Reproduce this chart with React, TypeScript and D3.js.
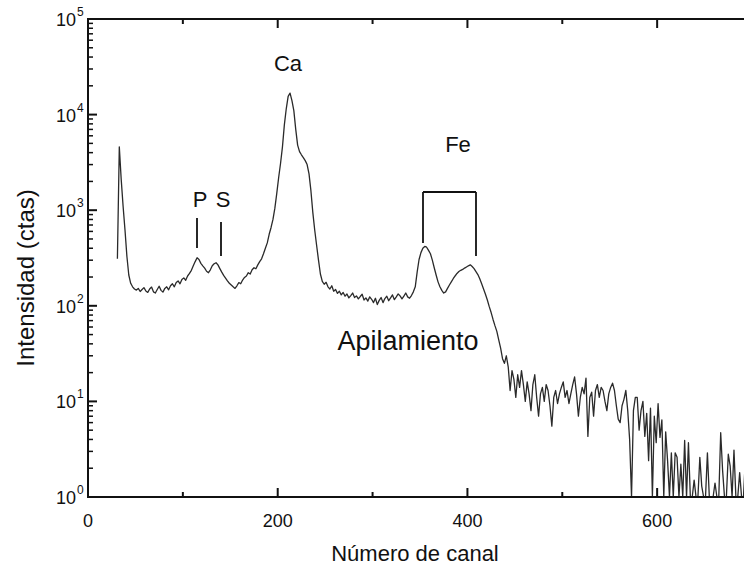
import React from "react";
import * as d3 from "d3";

// Channel numbers (every 2nd channel, 31..699)
const CHANNELS: number[] = d3.range(31, 700, 2);

// Counts per channel (0 = no counts)
const COUNTS: number[] = [
  310, 4600, 2100, 1100, 620, 330, 210, 172, 158, 150,
  146, 152, 141, 148, 155, 143, 138, 150, 157, 140,
  136, 148, 160, 145, 139, 152, 158, 147, 162, 170,
  158, 175, 182, 170, 188, 196, 185, 205, 218, 235,
  262, 290, 318, 305, 278, 262, 248, 230, 222, 238,
  262, 275, 282, 268, 245, 225, 208, 195, 182, 172,
  165, 158, 152, 162, 175, 170, 186, 198, 205, 222,
  215, 238, 250, 244, 268, 290, 310, 350, 400, 455,
  560, 660, 800, 1050, 1500, 2200, 3100, 4600, 7800, 11500,
  15500, 16800, 14000, 11000, 7000, 4800, 4100, 3800, 3550, 3300,
  3000, 2400, 1600, 950, 620, 430, 300, 215, 180, 168,
  176, 158, 150, 162, 142, 148, 135, 142, 130, 138,
  126, 133, 121, 128, 136, 122, 127, 118, 125, 132,
  115, 121, 112, 124, 117, 108, 120, 103, 114, 122,
  108, 119, 126, 113, 121, 130, 116, 124, 133, 127,
  118, 126, 136, 124, 120, 128, 140, 158, 225, 305,
  360, 400, 418, 410, 380, 350, 300, 250, 210, 178,
  158, 145, 136, 140, 152, 165, 178, 192, 205, 218,
  228, 235, 240, 248, 255, 262, 268, 258, 245, 228,
  212, 192, 170, 150, 132, 115, 98, 85, 72, 62,
  54, 44, 36, 28, 25, 30, 23, 13, 21, 17,
  11, 19, 14, 21, 15, 10, 16, 12, 8, 15,
  19, 11, 7, 12, 14, 10, 15, 13, 9, 5.5,
  11, 13, 9.5, 12, 14, 16, 11, 13, 9.5, 12,
  15, 18, 12, 7, 11, 14, 12, 17.5, 4.3, 11,
  12.5, 7, 13, 15, 11, 14, 13, 10, 8, 12,
  14, 15.5, 13, 9, 6.5, 6, 9, 10.5, 13, 8,
  4, 0, 8, 11, 11, 5, 8, 10, 4.3, 7.5,
  2.4, 8.5, 0, 7, 3.7, 9.5, 4.2, 6.4, 1, 4.8,
  2.4, 0, 2.9, 0, 2.9, 2.6, 0, 2.2, 0, 3.9,
  0, 3.7, 0, 0, 1.5, 0, 0, 2.6, 1.3, 0,
  0, 2.9, 0, 0, 0, 1.4, 0, 0, 4.7, 1.9,
  0, 0, 2.8, 2.1, 0, 3.1, 0, 0, 1.8, 0,
  0, 2.5, 0, 1.5, 0,
];

const X_MAJOR = [0, 200, 400, 600];
const X_MINOR = [100, 300, 500];
const Y_DECADES = [0, 1, 2, 3, 4, 5];

const X_TITLE = "Número de canal";
const Y_TITLE = "Intensidad (ctas)";

const W = 744;
const H = 568;
const L = 88;
const R = 752;
const T = 19;
const B = 497;

const FONT = "'Liberation Sans', Arial, Helvetica, sans-serif";

export default function App() {
  const x = d3.scaleLinear().domain([0, 700]).range([L, R]);
  const y = d3.scaleLog().domain([1, 1e5]).range([B, T]);

  const n = Math.min(CHANNELS.length, COUNTS.length);
  const pts: [number, number][] = [];
  for (let i = 0; i < n; i++) pts.push([CHANNELS[i], Math.max(COUNTS[i], 1)]);
  const line = d3
    .line<[number, number]>()
    .x((d) => x(d[0]))
    .y((d) => y(d[1]));

  const minorY: number[] = [];
  for (let d = 0; d < 5; d++) for (let k = 2; k <= 9; k++) minorY.push(k * Math.pow(10, d));

  const stroke = "#111";

  return (
    <svg
      width={W}
      height={H}
      style={{ position: "absolute", left: 0, top: 0, background: "#fff" }}
      fontFamily={FONT}
    >
      <defs>
        <clipPath id="plot">
          <rect x={L} y={T} width={R - L} height={B - T + 1} />
        </clipPath>
      </defs>
      <rect x={0} y={0} width={W} height={H} fill="#fff" />

      {/* spectrum */}
      <path
        d={line(pts) || ""}
        fill="none"
        stroke="#2a2a2a"
        strokeWidth={1.3}
        strokeLinejoin="round"
        clipPath="url(#plot)"
      />

      {/* frame */}
      <line x1={L} y1={T} x2={L} y2={B} stroke={stroke} strokeWidth={2} />
      <line x1={L - 1} y1={B} x2={W} y2={B} stroke={stroke} strokeWidth={2} />
      <line x1={L - 1} y1={T} x2={W} y2={T} stroke={stroke} strokeWidth={2} />

      {/* x ticks */}
      {X_MAJOR.map((v) => (
        <g key={"xm" + v}>
          <line x1={x(v)} x2={x(v)} y1={B} y2={B - 9} stroke={stroke} strokeWidth={2} />
          <line x1={x(v)} x2={x(v)} y1={T} y2={T + 9} stroke={stroke} strokeWidth={2} />
          <text x={x(v)} y={B + 30} textAnchor="middle" fontSize={18} fill="#111">
            {v}
          </text>
        </g>
      ))}
      {X_MINOR.map((v) => (
        <g key={"xn" + v}>
          <line x1={x(v)} x2={x(v)} y1={B} y2={B - 5} stroke={stroke} strokeWidth={2} />
          <line x1={x(v)} x2={x(v)} y1={T} y2={T + 5} stroke={stroke} strokeWidth={2} />
        </g>
      ))}

      {/* y ticks */}
      {Y_DECADES.map((d) => {
        const yy = y(Math.pow(10, d));
        return (
          <g key={"yd" + d}>
            <line x1={L} x2={L + 9} y1={yy} y2={yy} stroke={stroke} strokeWidth={2} />
            <text x={76} y={yy + 7} textAnchor="end" fontSize={18} fill="#111">
              10
            </text>
            <text x={77} y={yy - 3} textAnchor="start" fontSize={12} fill="#111">
              {d}
            </text>
          </g>
        );
      })}
      {minorY.map((v) => (
        <line key={"ym" + v} x1={L} x2={L + 5} y1={y(v)} y2={y(v)} stroke={stroke} strokeWidth={1.5} />
      ))}

      {/* axis titles */}
      <text x={415} y={561} textAnchor="middle" fontSize={22} fill="#111">
        {X_TITLE}
      </text>
      <text
        transform={`translate(34, ${278}) rotate(-90)`}
        textAnchor="middle"
        fontSize={24}
        fill="#111"
      >
        {Y_TITLE}
      </text>

      {/* annotations */}
      <text x={288} y={71} textAnchor="middle" fontSize={22} fill="#111">Ca</text>
      <text x={200} y={207} textAnchor="middle" fontSize={22} fill="#111">P</text>
      <text x={223} y={207} textAnchor="middle" fontSize={22} fill="#111">S</text>
      <line x1={197} x2={197} y1={218} y2={248} stroke={stroke} strokeWidth={1.8} />
      <line x1={221} x2={221} y1={222} y2={256} stroke={stroke} strokeWidth={1.8} />
      <text x={458} y={152} textAnchor="middle" fontSize={22} fill="#111">Fe</text>
      <line x1={423} x2={476} y1={192} y2={192} stroke={stroke} strokeWidth={1.8} />
      <line x1={423} x2={423} y1={192} y2={243} stroke={stroke} strokeWidth={1.8} />
      <line x1={476} x2={476} y1={192} y2={256} stroke={stroke} strokeWidth={1.8} />
      <text x={408} y={350} textAnchor="middle" fontSize={27} fill="#111">Apilamiento</text>
    </svg>
  );
}
